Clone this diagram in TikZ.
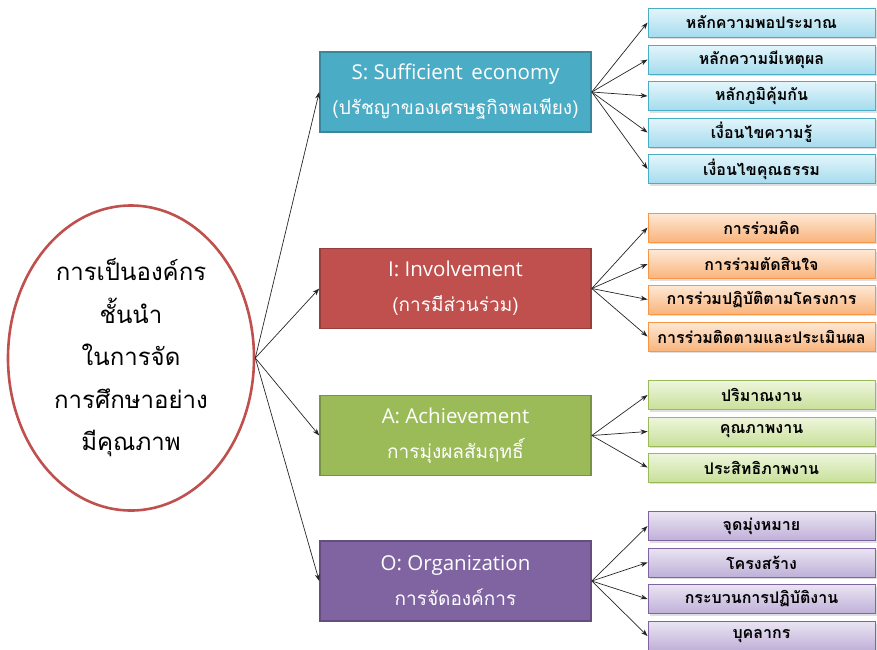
\documentclass[tikz,border=0pt]{standalone}
\usepackage{fontspec}
\newfontfamily\thai[Script=Thai]{Loma}
\newfontfamily\latn{Open Sans}
\usetikzlibrary{shapes.geometric,arrows.meta,shadows}
\definecolor{ellred}{HTML}{C0504D}
\definecolor{sblue}{HTML}{4BACC6}
\definecolor{ired}{HTML}{C0504D}
\definecolor{agreen}{HTML}{9BBB59}
\definecolor{opurple}{HTML}{8064A2}
\definecolor{sbT}{HTML}{E4F5FB}\definecolor{sbB}{HTML}{A5DCEE}\definecolor{sbD}{HTML}{4BACC6}
\definecolor{ioT}{HTML}{FEE9D6}\definecolor{ioB}{HTML}{F9B47C}\definecolor{ioD}{HTML}{F79646}
\definecolor{agT}{HTML}{EEF6DD}\definecolor{agB}{HTML}{C9E09A}\definecolor{agD}{HTML}{9BBB59}
\definecolor{opT}{HTML}{EAE4F2}\definecolor{opB}{HTML}{BFB0D8}\definecolor{opD}{HTML}{8064A2}
\begin{document}
\begin{tikzpicture}[x=1pt,y=-1pt,
  mainbox/.style={draw=#1!78!black, fill=#1, line width=1.6pt, minimum width=271, minimum height=80,
    text=white, align=center, font=\thai\fontsize{19}{35}\selectfont, inner sep=0},
  subbox/.style n args={3}{draw=#3, line width=0.9pt, top color=#1, bottom color=#2,
    minimum width=227, minimum height=29, inner sep=0, font=\thai\bfseries\fontsize{16}{18}\selectfont,
    drop shadow={opacity=0.25, shadow xshift=1.5pt, shadow yshift=-2pt}},
  sbox/.style={subbox={sbT}{sbB}{sbD}},
  ibox/.style={subbox={ioT}{ioB}{ioD}},
  abox/.style={subbox={agT}{agB}{agD}},
  obox/.style={subbox={opT}{opB}{opD}},
  conn/.style={draw=black!85, line width=0.7pt, -{Stealth[length=7pt,width=5pt]}}
]
\useasboundingbox (0,0) rectangle (877,649);
\node[ellipse, draw=ellred, line width=2.6pt, minimum width=246, minimum height=305, inner sep=0,
      align=center, font=\thai\fontsize{24}{42.5}\selectfont] (core) at (131,358)
  {การเป็นองค์กร\\ชั้นนำ\\ในการจัด\\การศึกษาอย่าง\\มีคุณภาพ};

\node[mainbox=sblue] (S) at (455.5,92) {{\latn\fontsize{20.5}{35}\selectfont S: Sufficient\, economy}\\(ปรัชญาของเศรษฐกิจพอเพียง)};
\node[mainbox=ired] (I) at (455.5,288.5) {{\latn\fontsize{20.5}{35}\selectfont I: Involvement}\\(การมีส่วนร่วม)};
\node[mainbox=agreen] (A) at (455.5,435.5) {{\latn\fontsize{20.5}{35}\selectfont A: Achievement}\\การมุ่งผลสัมฤทธิ์};
\node[mainbox=opurple] (O) at (455.5,581) {{\latn\fontsize{20.5}{35}\selectfont O: Organization}\\การจัดองค์การ};

\node[sbox] (s1) at (761.5,22.5) {หลักความพอประมาณ};
\node[sbox] (s2) at (761.5,59.5) {หลักความมีเหตุผล};
\node[sbox] (s3) at (761.5,96) {หลักภูมิคุ้มกัน};
\node[sbox] (s4) at (761.5,132.5) {เงื่อนไขความรู้};
\node[sbox] (s5) at (761.5,169) {เงื่อนไขคุณธรรม};

\node[ibox] (i1) at (761.5,227.5) {การร่วมคิด};
\node[ibox] (i2) at (761.5,264) {การร่วมตัดสินใจ};
\node[ibox] (i3) at (761.5,299.5) {การร่วมปฏิบัติตามโครงการ};
\node[ibox] (i4) at (761.5,336.5) {การร่วมติดตามและประเมินผล};

\node[abox] (a1) at (761.5,395) {ปริมาณงาน};
\node[abox] (a2) at (761.5,431.5) {คุณภาพงาน};
\node[abox] (a3) at (761.5,467.5) {ประสิทธิภาพงาน};

\node[obox] (o1) at (761.5,526) {จุดมุ่งหมาย};
\node[obox] (o2) at (761.5,562.5) {โครงสร้าง};
\node[obox] (o3) at (761.5,599) {กระบวนการปฏิบัติงาน};
\node[obox] (o4) at (761.5,636) {บุคลากร};

\foreach \m in {S,I,A,O} \draw[conn] (core.east) -- (\m.west);
\foreach \s in {s1,s2,s3,s4,s5} \draw[conn] (S.east) -- (\s.west);
\foreach \s in {i1,i2,i3,i4} \draw[conn] (I.east) -- (\s.west);
\foreach \s in {a1,a2,a3} \draw[conn] (A.east) -- (\s.west);
\foreach \s in {o1,o2,o3,o4} \draw[conn] (O.east) -- (\s.west);
\end{tikzpicture}
\end{document}
